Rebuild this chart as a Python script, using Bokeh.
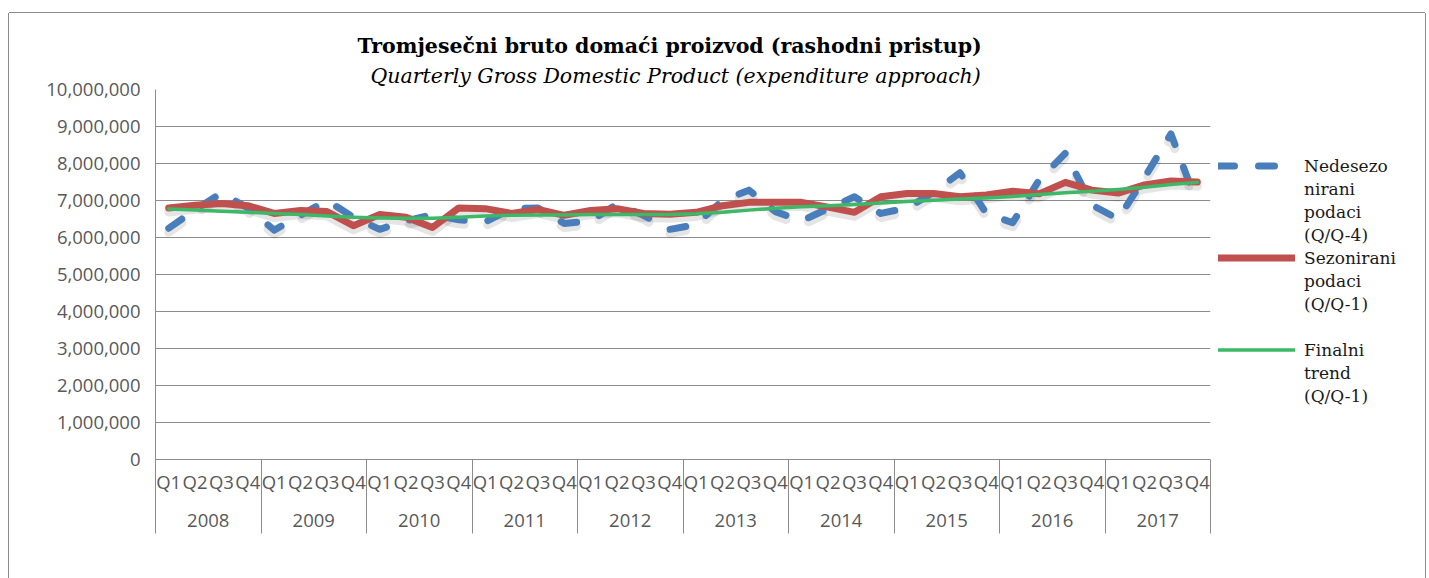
from bokeh.plotting import figure
from bokeh.layouts import row
from bokeh.models import (Range1d, FixedTicker, NumeralTickFormatter, Legend,
                          LegendItem, Title, LinearAxis)
from bokeh.embed import file_html
from bokeh.resources import INLINE

years = ["2008", "2009", "2010", "2011", "2012", "2013", "2014", "2015", "2016", "2017"]
quarters = ["Q1", "Q2", "Q3", "Q4"]

# Nedesezonirani podaci (Q/Q-4)
nesez = [6250000, 6750000, 7200000, 6800000,
         6200000, 6600000, 7000000, 6550000,
         6220000, 6450000, 6620000, 6480000,
         6420000, 6780000, 6800000, 6380000,
         6450000, 6900000, 6600000, 6220000,
         6350000, 7000000, 7280000, 6700000,
         6450000, 6780000, 7100000, 6650000,
         6800000, 7220000, 7750000, 6650000,
         6400000, 7550000, 8280000, 6880000,
         6500000, 7620000, 8800000, 6900000]

# Sezonirani podaci (Q/Q-1)
sez = [6800000, 6870000, 6920000, 6860000,
       6650000, 6730000, 6700000, 6320000,
       6620000, 6550000, 6270000, 6800000,
       6780000, 6650000, 6760000, 6600000,
       6730000, 6780000, 6650000, 6630000,
       6680000, 6860000, 6950000, 6950000,
       6950000, 6820000, 6680000, 7100000,
       7190000, 7190000, 7100000, 7150000,
       7250000, 7180000, 7490000, 7280000,
       7200000, 7420000, 7530000, 7500000]

# Finalni trend (Q/Q-1)
trend = [6770000, 6740000, 6710000, 6680000,
         6650000, 6620000, 6580000, 6550000,
         6530000, 6520000, 6520000, 6550000,
         6580000, 6600000, 6610000, 6610000,
         6620000, 6620000, 6620000, 6620000,
         6640000, 6680000, 6740000, 6790000,
         6830000, 6860000, 6890000, 6930000,
         6970000, 7010000, 7040000, 7070000,
         7110000, 7160000, 7210000, 7250000,
         7300000, 7360000, 7430000, 7490000]

# legend texts, one list of lines per series (as wrapped in the original)
label_lines = [["Nedesezo", "nirani", "podaci", "(Q/Q-4)"],
               ["Sezonirani", "podaci", "(Q/Q-1)", " "],
               ["Finalni", "trend", "(Q/Q-1)"]]

title_main = "Tromjesečni bruto domaći proizvod (rashodni pristup)"
title_sub = "Quarterly Gross Domestic Product (expenditure approach)"

y_ticks = list(range(0, 10_000_001, 1_000_000))

nq = len(quarters)
n = len(years) * nq
xs = [i + 0.5 for i in range(n)]

GRID = "#8c8c8c"
LBL = "#595959"
AXFONT = "Open Sans"
AXSIZE = "18.5px"
BLUE, RED, GREEN = "#4A7EBB", "#C0504D", "#3DB867"

H = 565
p = figure(width=1206, height=H, x_range=Range1d(0, n), y_range=Range1d(0, 10_000_000),
           output_backend="svg", toolbar_location=None,
           min_border_left=146, min_border_right=5, min_border_top=76, min_border_bottom=119)
p.outline_line_color = None
p.background_fill_color = "white"
p.border_fill_color = "white"
p.xgrid.visible = False
p.ygrid.grid_line_color = GRID
p.ygrid.ticker = FixedTicker(ticks=y_ticks)

# y axis
ya = p.yaxis[0]
ya.ticker = FixedTicker(ticks=y_ticks)
ya.formatter = NumeralTickFormatter(format="0,0")
ya.major_tick_out = 0
ya.major_tick_in = 0
ya.minor_tick_out = 0
ya.minor_tick_in = 0
ya.axis_line_color = GRID
ya.major_label_text_font = AXFONT
ya.major_label_text_font_size = AXSIZE
ya.major_label_text_color = LBL
ya.major_label_standoff = 15

# quarter axis, with year separators drawn as long minor ticks
SEP = 74
xa = p.xaxis[0]
xa.ticker = FixedTicker(ticks=xs, minor_ticks=[k * nq for k in range(len(years) + 1)])
xa.major_label_overrides = {x: quarters[i % nq] for i, x in enumerate(xs)}
xa.major_tick_out = 0
xa.major_tick_in = 0
xa.minor_tick_in = 0
xa.minor_tick_out = SEP
xa.minor_tick_line_color = GRID
xa.axis_line_color = GRID
xa.major_label_text_font = AXFONT
xa.major_label_text_font_size = AXSIZE
xa.major_label_text_color = LBL
xa.major_label_standoff = 9 - SEP

# year axis
year_centers = [k * nq + nq / 2 for k in range(len(years))]
ya2 = LinearAxis(ticker=FixedTicker(ticks=year_centers),
                 major_label_overrides={c: years[k] for k, c in enumerate(year_centers)})
ya2.axis_line_color = None
ya2.major_tick_out = 0
ya2.major_tick_in = 0
ya2.minor_tick_out = 0
ya2.minor_tick_in = 0
ya2.major_label_text_font = AXFONT
ya2.major_label_text_font_size = AXSIZE
ya2.major_label_text_color = LBL
ya2.major_label_standoff = 17
p.add_layout(ya2, "below")

# soft shadows
SH = 110000
p.line(xs, [v - SH for v in nesez], line_color="black", line_alpha=0.10, line_width=9,
       line_dash="16 24", line_cap="round", line_join="round")
p.line(xs, [v - SH for v in sez], line_color="black", line_alpha=0.10, line_width=9,
       line_cap="round", line_join="round")

p.line(xs, nesez, line_color=BLUE, line_width=7, line_dash="16 24",
       line_cap="round", line_join="round")
p.line(xs, sez, line_color=RED, line_width=7, line_cap="round", line_join="round")
p.line(xs, trend, line_color=GREEN, line_width=3.5, line_cap="round", line_join="round")

p.add_layout(Title(text=title_sub, text_font="DejaVu Serif", text_font_style="italic",
                   text_font_size="20.5px", text_color="#000000", align="left",
                   offset=215, standoff=3), "above")
p.add_layout(Title(text=title_main, text_font="DejaVu Serif", text_font_style="bold",
                   text_font_size="20.5px", text_color="#000000", align="left",
                   offset=202, standoff=5), "above")

# legend panel to the right of the plot (its frame is aligned with the main frame);
# the same series are given to it, but they fall outside its ranges and only
# their legend samples show
q = figure(width=210, height=H, x_range=Range1d(0, 1), y_range=Range1d(0, 1),
           output_backend="svg", toolbar_location=None, min_border=0,
           x_axis_location=None, y_axis_location=None)
q.outline_line_color = None
q.grid.visible = False
q.background_fill_color = "white"
q.border_fill_color = "white"

k1 = q.line(xs, nesez, line_color=BLUE, line_width=7, line_dash="16 24",
            line_cap="round", line_join="round")
k2 = q.line(xs, sez, line_color=RED, line_width=7, line_cap="round")
k3 = q.line(xs, trend, line_color=GREEN, line_width=3.5, line_cap="round")
blank = q.line(xs, trend, line_alpha=0)

items = []
for r, lines in zip([k1, k2, k3], label_lines):
    items.append(LegendItem(label=lines[0], renderers=[r]))
    for ln in lines[1:]:
        items.append(LegendItem(label=ln, renderers=[blank]))

legend = Legend(items=items, location=(3, 52), glyph_width=77,
                glyph_height=23, label_height=23, label_standoff=9, spacing=0,
                padding=0, margin=0, border_line_color=None, background_fill_alpha=0,
                label_text_font="DejaVu Serif", label_text_font_size="17px",
                label_text_color="#1a1a1a")
q.add_layout(legend, "center")

lay = row(p, q, spacing=0)
lay.styles = {"margin-left": "9px", "margin-top": "13px",
              "box-shadow": "-1px 0 0 0 #8c8c8c, 1px 0 0 0 #8c8c8c, 0 -1px 0 0 #8c8c8c"}

open("out.html", "w").write(file_html(lay, INLINE))
